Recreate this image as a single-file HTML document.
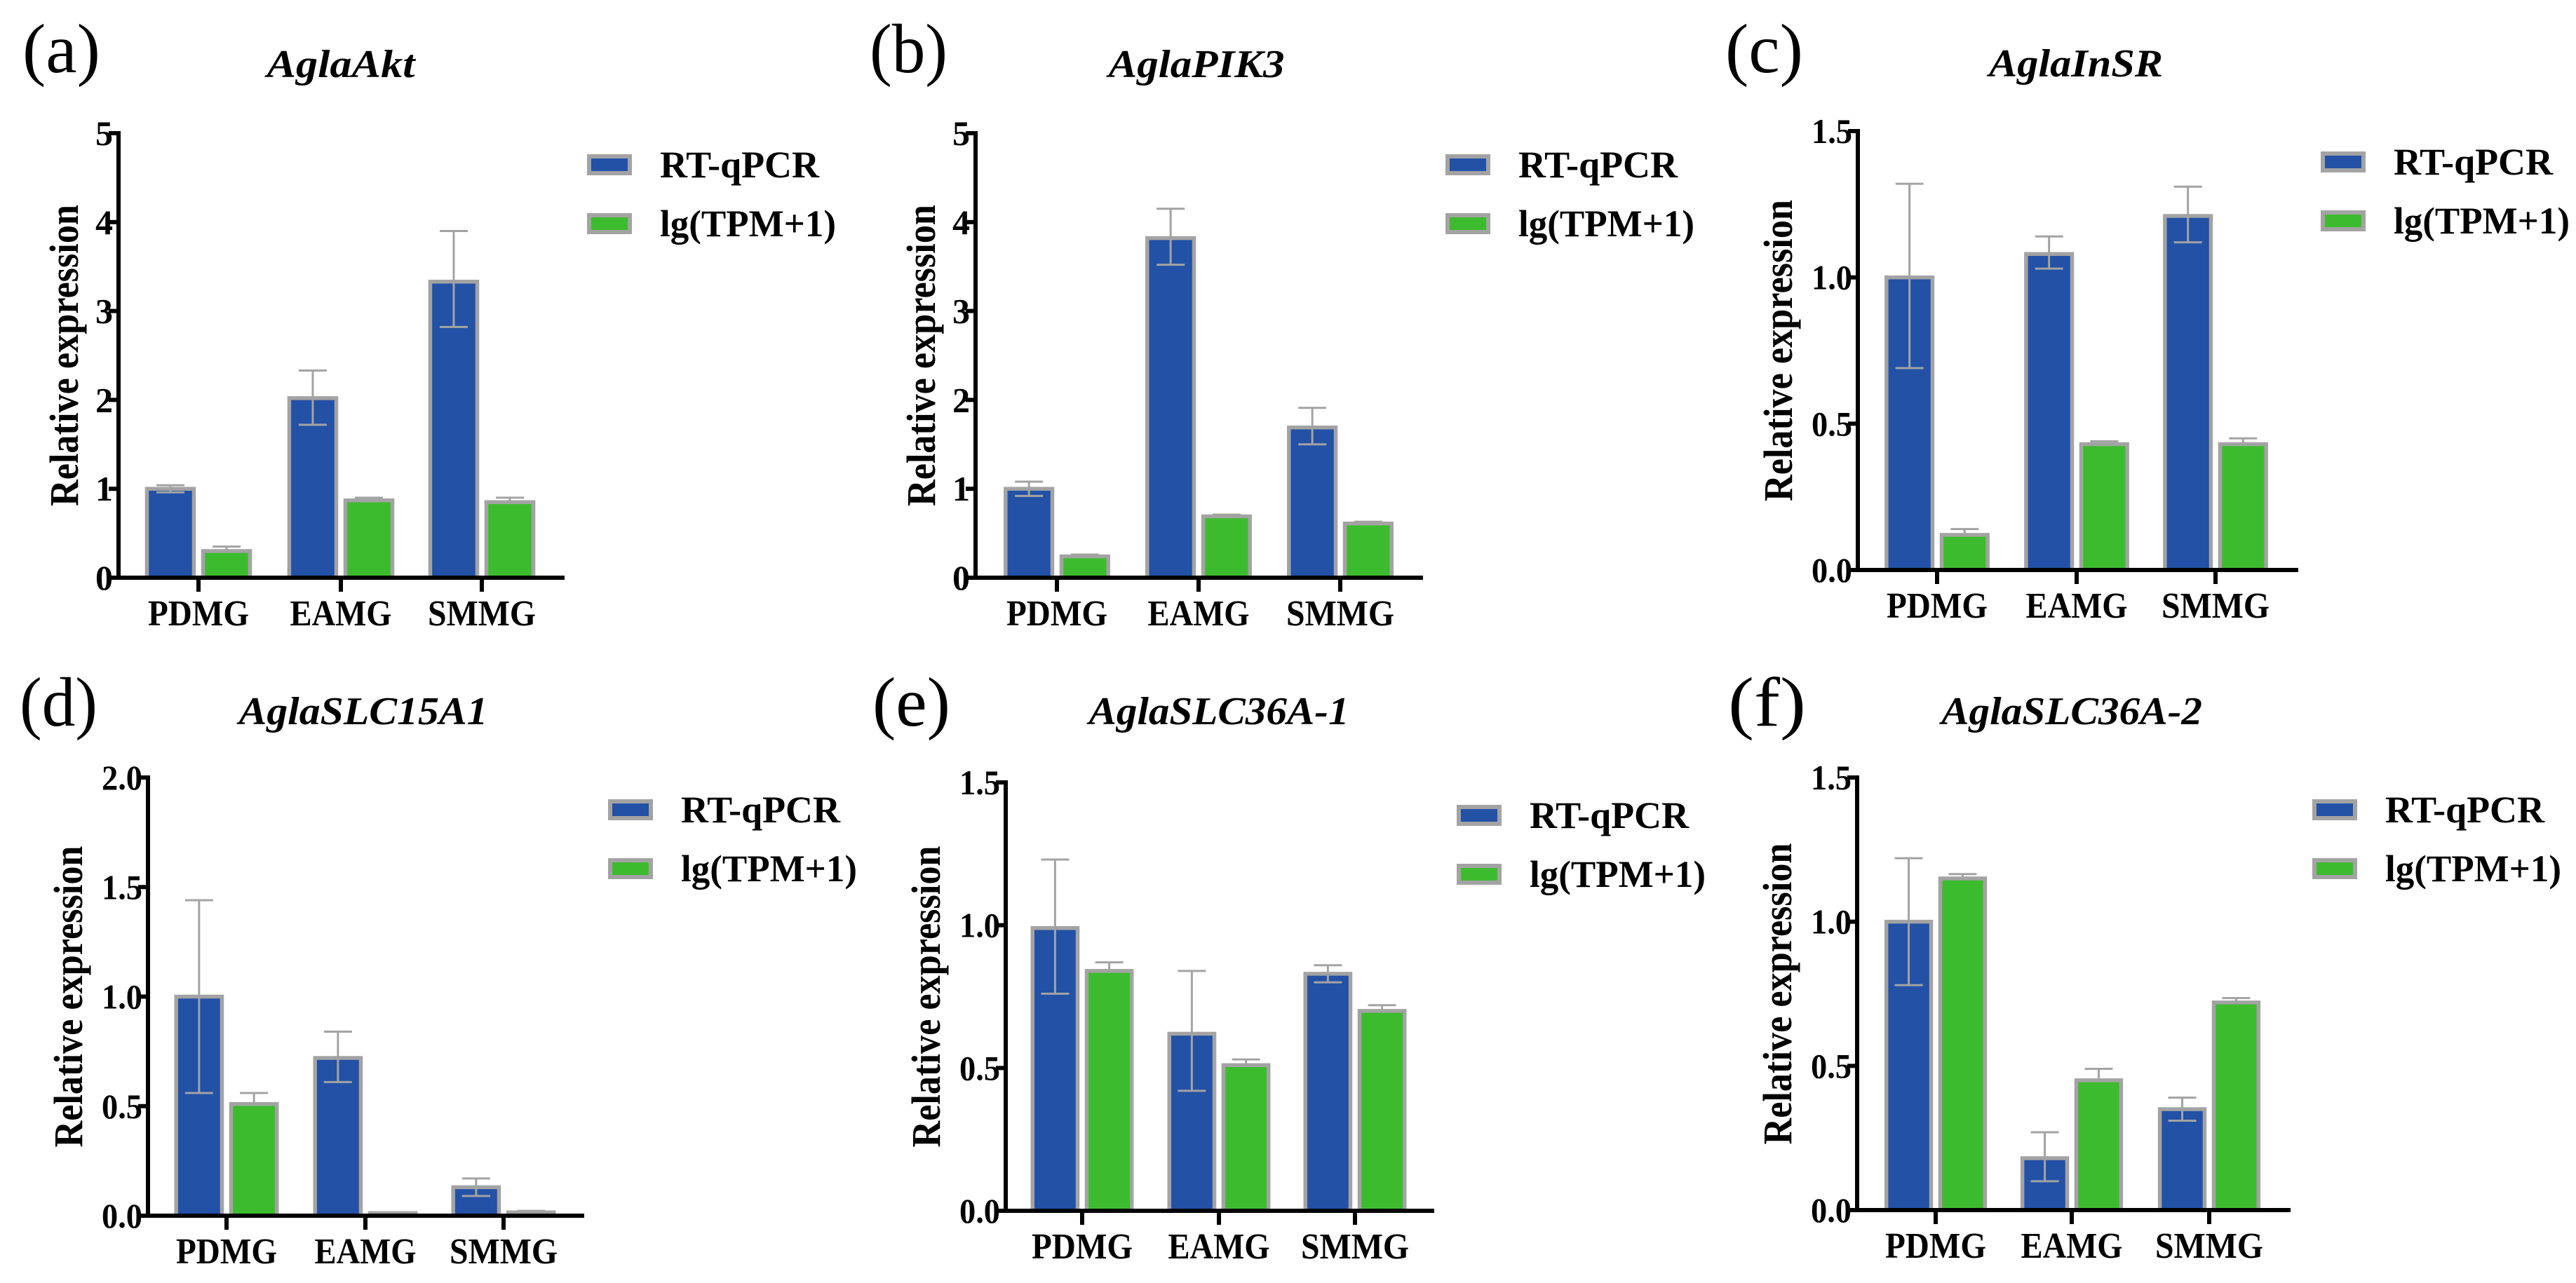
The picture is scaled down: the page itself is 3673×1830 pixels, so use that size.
<!DOCTYPE html>
<html><head><meta charset="utf-8"><style>
html,body{margin:0;padding:0;background:#fff;}
svg{display:block;}
svg text{font-family:"Liberation Serif","DejaVu Serif",serif;}
</style></head><body>
<svg id="fig" width="3673" height="1830" viewBox="0 0 3673 1830" xmlns="http://www.w3.org/2000/svg"></svg>
<script>
const categories = ["PDMG","EAMG","SMMG"];
const seriesNames = ["RT-qPCR","lg(TPM+1)"];
const qpcrA = [1.0, 2.02, 3.33]; const qpcrErrHiA=[1.04,2.33,3.9]; const qpcrErrLoA=[0.96,1.72,2.82];
const tpmA = [0.3, 0.87, 0.85]; const tpmErrA=[0.35,0.9,0.9];
const qpcrB = [1.0, 3.82, 1.69]; const qpcrErrHiB=[1.08,4.15,1.91]; const qpcrErrLoB=[0.92,3.52,1.5];
const tpmB = [0.24, 0.69, 0.61]; const tpmErrB=[0.26,0.71,0.63];
const qpcrC = [1.0, 1.08, 1.21]; const qpcrErrHiC=[1.32,1.14,1.31]; const qpcrErrLoC=[0.69,1.03,1.12];
const tpmC = [0.12, 0.43, 0.43]; const tpmErrC=[0.14,0.44,0.45];
const qpcrD = [1.0, 0.72, 0.13]; const qpcrErrHiD=[1.44,0.84,0.17]; const qpcrErrLoD=[0.56,0.61,0.09];
const tpmD = [0.51, 0.012, 0.015]; const tpmErrD=[0.56,0.016,0.022];
const qpcrE = [0.99, 0.62, 0.83]; const qpcrErrHiE=[1.23,0.84,0.86]; const qpcrErrLoE=[0.76,0.42,0.8];
const tpmE = [0.84, 0.51, 0.70]; const tpmErrE=[0.87,0.53,0.72];
const qpcrF = [1.0, 0.18, 0.35]; const qpcrErrHiF=[1.22,0.27,0.39]; const qpcrErrLoF=[0.78,0.1,0.31];
const tpmF = [1.15, 0.45, 0.72]; const tpmErrF=[1.165,0.49,0.735];
const ticksInt = ["0","1","2","3","4","5"];
const ticksHalf15 = ["0.0","0.5","1.0","1.5"];
const ticksHalf20 = ["0.0","0.5","1.0","1.5","2.0"];
const panelLetters = ["(a)","(b)","(c)","(d)","(e)","(f)"];
const geneTitles = ["AglaAkt","AglaPIK3","AglaInSR","AglaSLC15A1","AglaSLC36A-1","AglaSLC36A-2"];

const panels = [
 {ax:169,ex:805,top:190,base:824,ymax:5,ticks:ticksInt,cx:[283,486,687],lx:32,ly:103,tx:486,ty:110,tw:211,sx:837,sy:220,q:qpcrA,qh:qpcrErrHiA,ql:qpcrErrLoA,t:tpmA,th:tpmErrA},
 {ax:1391,ex:2029,top:190,base:824,ymax:5,ticks:ticksInt,cx:[1507,1709,1911],lx:1240,ly:103,tx:1706,ty:110,tw:251,sx:2061,sy:220,q:qpcrB,qh:qpcrErrHiB,ql:qpcrErrLoB,t:tpmB,th:tpmErrB},
 {ax:2649,ex:3277,top:187,base:813,ymax:1.5,ticks:ticksHalf15,cx:[2762,2961,3159],lx:2460,ly:103,tx:2960,ty:109,tw:248,sx:3309,sy:216,q:qpcrC,qh:qpcrErrHiC,ql:qpcrErrLoC,t:tpmC,th:tpmErrC},
 {ax:211,ex:833,top:1109,base:1734,ymax:2,ticks:ticksHalf20,cx:[323,521,718],lx:28,ly:1035,tx:518,ty:1033,tw:355,sx:867,sy:1140,q:qpcrD,qh:qpcrErrHiD,ql:qpcrErrLoD,t:tpmD,th:tpmErrD},
 {ax:1434,ex:2045,top:1116,base:1727,ymax:1.5,ticks:ticksHalf15,cx:[1543,1738,1932],lx:1244,ly:1035,tx:1738,ty:1033,tw:371,sx:2077,sy:1148,q:qpcrE,qh:qpcrErrHiE,ql:qpcrErrLoE,t:tpmE,th:tpmErrE},
 {ax:2648,ex:3266,top:1109,base:1726,ymax:1.5,ticks:ticksHalf15,cx:[2760,2954,3150],lx:2464,ly:1035,tx:2954,ty:1033,tw:372,sx:3297,sy:1140,q:qpcrF,qh:qpcrErrHiF,ql:qpcrErrLoF,t:tpmF,th:tpmErrF}
];
const BLUE="#2251a6", GREEN="#3dbb2e", GRAY="#a3a3a3";
const FONT='"Liberation Serif","DejaVu Serif",serif';
const svg=document.getElementById('fig');
const NS="http://www.w3.org/2000/svg";
function mk(tag,attrs,parent){const e=document.createElementNS(NS,tag);for(const k in attrs)e.setAttribute(k,attrs[k]);if(tag==='text')e.setAttribute('font-family',FONT);(parent||svg).appendChild(e);return e;}
const catW=[144,145,154];
panels.forEach((p,pi)=>{
  const g=mk('g',{});
  
  
  const y=v=>p.base-(v/p.ymax)*(p.base-p.top);
  const dec=p.ticks[0].length>1;
  let t=mk('text',{x:p.lx,y:p.ly,'font-size':100,textLength:111,lengthAdjust:'spacingAndGlyphs'},g);t.textContent=panelLetters[pi];
  
  
  t=mk('text',{x:p.tx,y:p.ty,'font-size':56,'font-weight':'bold','font-style':'italic','text-anchor':'middle',textLength:p.tw,lengthAdjust:'spacingAndGlyphs'},g);t.textContent=geneTitles[pi];
  
  
  const tbx=p.ax-(dec?94:58), tcy=(p.top+p.base)/2;
  t=mk('text',{x:tbx,y:tcy,'font-size':58,'font-weight':'bold','text-anchor':'middle',transform:`rotate(-90 ${tbx} ${tcy})`,textLength:430,lengthAdjust:'spacingAndGlyphs'},g);t.textContent="Relative expression";
  
  
  const sp=p.cx[1]-p.cx[0], bw=sp*0.355;
  categories.forEach((c,i)=>{
    const cx=p.cx[i];
    const vals=[p.q[i],p.t[i]], cols=[BLUE,GREEN];
    [0,1].forEach(s=>{
      const x0= s===0? cx-4-bw : cx+4;
      const yt=y(vals[s]);
      const r=mk('rect',{x:x0+2.5,y:yt,width:bw-5,height:Math.max(0,p.base-yt),fill:cols[s],stroke:GRAY,'stroke-width':5.5},g);
      
      
      const hi= s===0? p.qh[i] : p.th[i];
      const lo= s===0? p.ql[i] : vals[s];
      const mx=x0+bw/2;
      const eb=mk('path',{d:`M${mx},${y(lo)}V${y(hi)}M${mx-20},${y(hi)}H${mx+20}`+(s===0?`M${mx-20},${y(lo)}H${mx+20}`:''),stroke:GRAY,'stroke-width':3,fill:'none'},g);
      
      
    });
    const tk=mk('line',{x1:cx,y1:p.base,x2:cx,y2:p.base+20,stroke:'#000','stroke-width':6},g);
    
    
    const lb=mk('text',{x:cx,y:p.base+68,'font-size':52,'font-weight':'bold','text-anchor':'middle',textLength:catW[i],lengthAdjust:'spacingAndGlyphs'},g);lb.textContent=c;
    
    
  });
  const axY=mk('line',{x1:p.ax,y1:p.top-3,x2:p.ax,y2:p.base+3,stroke:'#000','stroke-width':6},g);
  
  
  const axX=mk('line',{x1:p.ax-3,y1:p.base,x2:p.ex,y2:p.base,stroke:'#000','stroke-width':6},g);
  
  
  p.ticks.forEach((lab,k)=>{
    const v=parseFloat(lab), yy=y(v);
    const tl=mk('line',{x1:p.ax-14,y1:yy,x2:p.ax,y2:yy,stroke:'#000','stroke-width':6},g);
    
    
    const tt=mk('text',{x:p.ax-8,y:yy+17,'font-size':50,'font-weight':'bold','text-anchor':'end'},g);tt.textContent=lab;
    if(dec){tt.setAttribute('textLength',58);tt.setAttribute('lengthAdjust','spacingAndGlyphs');}
    
    
  });
  [0,1].forEach(s=>{
    const sy=p.sy+s*84;
    const sw=mk('rect',{x:p.sx+3,y:sy+3,width:58,height:24,fill:s?GREEN:BLUE,stroke:GRAY,'stroke-width':6},g);
    
    
    const lt=mk('text',{x:p.sx+104,y:sy+33,'font-size':54,'font-weight':'bold',textLength:s?251:227,lengthAdjust:'spacingAndGlyphs'},g);lt.textContent=seriesNames[s];
    
    
  });
});
</script>
</body></html>
